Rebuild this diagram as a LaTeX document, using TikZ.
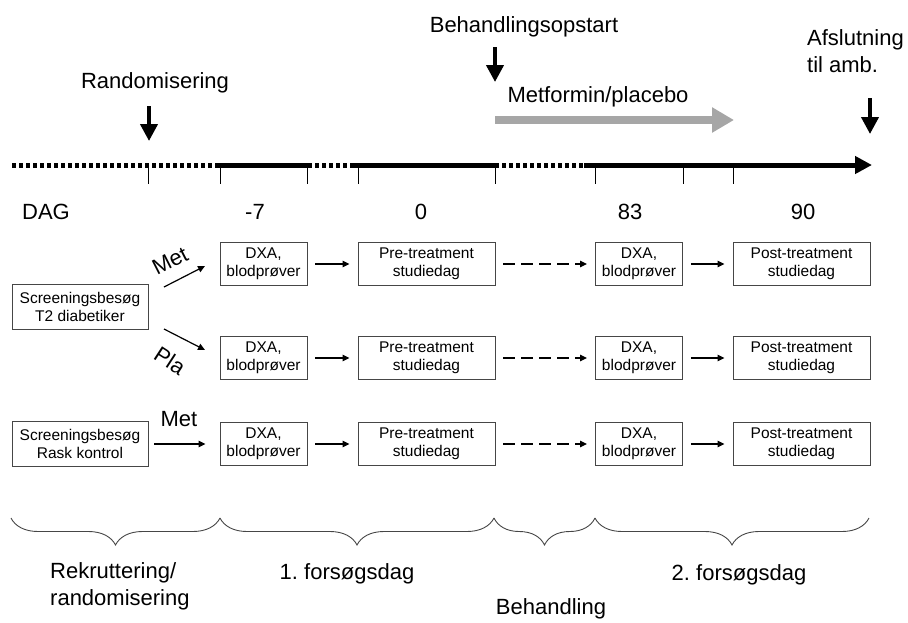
\documentclass[tikz,border=0pt]{standalone}
\usepackage{fontspec}
\setmainfont{Liberation Sans}
\usetikzlibrary{arrows.meta,decorations.pathreplacing}
\definecolor{graa}{RGB}{166,166,166}
\definecolor{kant}{RGB}{70,70,70}
\frenchspacing
\tikzset{
  tekst/.style={font=\fontsize{22}{27}\selectfont, inner sep=0pt},
  boks/.style={draw=kant, line width=0.9pt, align=center, inner sep=1pt,
    minimum height=43pt, font=\fontsize{15.5}{17.5}\selectfont},
  smal/.style={boks, minimum width=87pt},
  bred/.style={boks, minimum width=137pt},
  pil/.style={-{Triangle[length=7pt,width=6.5pt]}, line width=1.2pt,
    shorten <=8pt, shorten >=8pt},
  nedpil/.style={-{Triangle[length=17pt,width=17pt]}, line width=4pt},
  fuld/.style={line width=5pt},
  prik/.style={line width=5pt, dash pattern=on 4pt off 3pt},
  klamme/.style={decorate, decoration={brace,mirror,amplitude=27pt},
    line width=0.9pt, draw=kant}
}
\begin{document}
\begin{tikzpicture}[x=1pt,y=-1pt]
  \useasboundingbox (0,0) rectangle (908,622);
  % tidslinje
  \coordinate (t0) at (12,165);
  \coordinate (ta) at (218,165);
  \coordinate (tb) at (308,165);
  \coordinate (tc) at (353,165);
  \coordinate (td) at (495,165);
  \coordinate (te) at (584,165);
  \coordinate (tf) at (872,165);
  \draw [prik] (t0)--(ta);
  \draw [fuld] (ta)--(tb);
  \draw [prik] (tb)--(tc);
  \draw [fuld] (tc)--(td);
  \draw [prik] (td)--(te);
  \draw [fuld,-{Triangle[length=17pt,width=17pt]}] (te)--(tf);
  \foreach \x in {148,220,307,358,495,595,683,733}
    \draw [line width=1pt] (\x,165)--(\x,184);
  % overskrifter
  \node [tekst] (randlbl) at (155,83) {Randomisering};
  \coordinate (r1) at (149,106);
  \coordinate (r2) at (149,141);
  \draw [nedpil] (r1)--(r2);
  \node [tekst] (startlbl) at (524,27) {Behandlingsopstart};
  \coordinate (s1) at (495,47);
  \coordinate (s2) at (495,82);
  \draw [nedpil] (s1)--(s2);
  \node [tekst] (medlbl) at (598,97) {Metformin/placebo};
  \coordinate (g1) at (495,120);
  \coordinate (g2) at (734,120);
  \draw [graa, line width=8pt, -{Triangle[length=22pt,width=24pt]}] (g1)--(g2);
  \node [tekst, align=left, anchor=north west] (afsllbl) at (807,29)
    {Afslutning\\til amb.};
  \coordinate (a1) at (870,98);
  \coordinate (a2) at (870,134);
  \draw [nedpil] (a1)--(a2);
  % dage
  \node [tekst] (dag) at (46,212) {DAG};
  \node [tekst] (dm7) at (255,212) {-7};
  \node [tekst] (d0) at (421,212) {0};
  \node [tekst] (d83) at (630,212) {83};
  \node [tekst] (d90) at (803,212) {90};
  % bokse
  \node [boks, minimum width=136pt, minimum height=45pt] (t2) at (80,307)
    {Screeningsbesøg\\T2 diabetiker};
  \node [boks, minimum width=136pt, minimum height=45pt] (rk) at (80,444)
    {Screeningsbesøg\\Rask kontrol};
  \foreach \r/\y in {1/264,2/358,3/444} {
    \node [smal] (dxa\r) at (263.5,\y) {DXA,\\blodprøver};
    \node [bred] (pre\r) at (426.5,\y) {Pre-treatment\\studiedag};
    \node [smal] (dxb\r) at (639,\y) {DXA,\\blodprøver};
    \node [bred] (post\r) at (801.5,\y) {Post-treatment\\studiedag};
    \draw [pil] (dxa\r)--(pre\r);
    \draw [pil, dash pattern=on 12pt off 6pt] (pre\r)--(dxb\r);
    \draw [pil] (dxb\r)--(post\r);
  }
  % randomisering
  \coordinate (m1) at (164,287);
  \coordinate (m2) at (205,266);
  \draw [pil, shorten <=0pt, shorten >=0pt] (m1)--(m2);
  \node [tekst, rotate=27] (metlbl) at (170,261) {Met};
  \coordinate (p1) at (164,329);
  \coordinate (p2) at (205,350);
  \draw [pil, shorten <=0pt, shorten >=0pt] (p1)--(p2);
  \node [tekst, rotate=-33] (plalbl) at (170,361) {Pla};
  \draw [pil, shorten <=6pt, shorten >=14pt] (rk)--(dxa3);
  \node [tekst] (metlbl2) at (179,419) {Met};
  % klammer
  \coordinate (k0) at (11,518);
  \coordinate (k1) at (220,518);
  \coordinate (k2) at (494,518);
  \coordinate (k3) at (595,518);
  \coordinate (k4) at (869,518);
  \draw [klamme] (k0)--(k1);
  \draw [klamme] (k1)--(k2);
  \draw [klamme] (k2)--(k3);
  \draw [klamme] (k3)--(k4);
  \node [tekst, align=left, anchor=north west] (rekrlbl) at (50,562)
    {Rekruttering/\\randomisering};
  \node [tekst] (f1lbl) at (347,574) {1. forsøgsdag};
  \node [tekst] (behlbl) at (551,609) {Behandling};
  \node [tekst] (f2lbl) at (739,575) {2. forsøgsdag};
\end{tikzpicture}
\end{document}
